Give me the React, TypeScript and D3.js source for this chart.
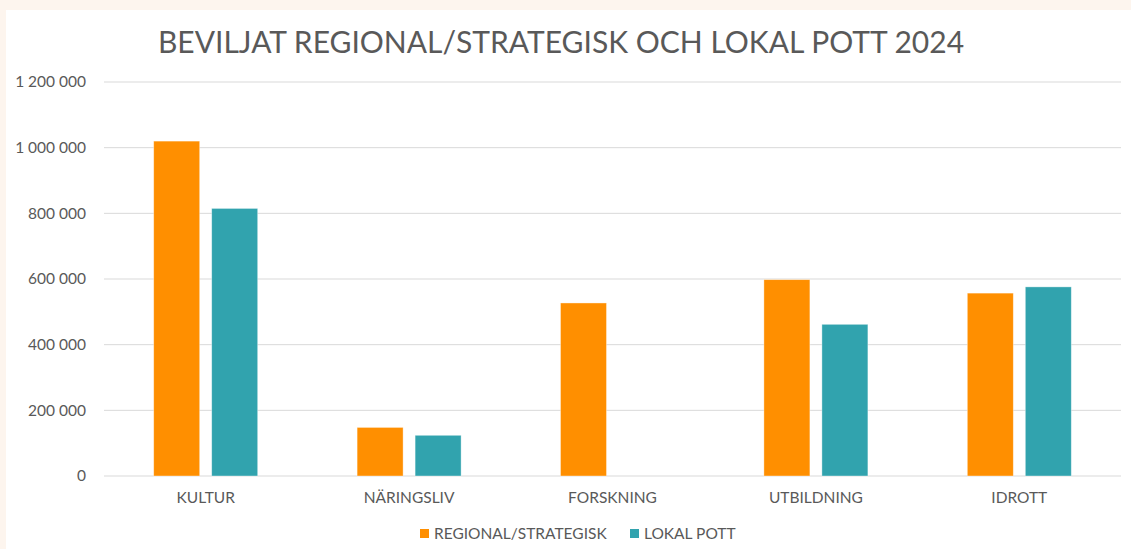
import React, { useEffect, useRef } from "react";
import * as d3 from "d3";

const categories = ["KULTUR", "NÄRINGSLIV", "FORSKNING", "UTBILDNING", "IDROTT"];
const seriesNames = ["REGIONAL/STRATEGISK", "LOKAL POTT"];
const regional = [1020000, 148000, 527000, 598000, 557000];
const lokal = [815000, 124000, 0, 462000, 576000];
const yTicks = [0, 200000, 400000, 600000, 800000, 1000000, 1200000];
const colors = ["#FF8F00", "#31A3AE"];
const title = "BEVILJAT REGIONAL/STRATEGISK OCH LOKAL POTT 2024";

const W = 1131;
const H = 549;

export default function App() {
  const ref = useRef<SVGSVGElement>(null);
  useEffect(() => {
    const svg = d3.select(ref.current);
    svg.selectAll("*").remove();
    const font = "Lato, 'Open Sans', sans-serif";
    const textColor = "#595959";
    const fs = 15.5;

    svg.append("rect").attr("width", W).attr("height", H).attr("fill", "#FDF5EE");
    svg.append("rect").attr("x", 6).attr("y", 10).attr("width", W - 6).attr("height", H - 10).attr("fill", "#ffffff");

    const left = 104, right = 1121, top = 82, bottom = 476;
    const y = d3.scaleLinear().domain([0, 1200000]).range([bottom, top]);
    const pad = 1 - 104 / ((right - left) / categories.length);
    const x0 = d3.scaleBand<string>().domain(categories).range([left, right]).paddingInner(pad).paddingOuter(pad / 2);
    const x1 = d3.scaleBand<string>().domain(seriesNames).range([0, x0.bandwidth()]).paddingInner(0.207).paddingOuter(0);

    const fmt = (v: number) => d3.format(",")(v).replace(/,/g, " ");

    // gridlines
    svg.append("g").selectAll("line").data(yTicks).join("line")
      .attr("x1", left).attr("x2", right)
      .attr("y1", d => y(d)).attr("y2", d => y(d))
      .attr("stroke", "#D9D9D9").attr("stroke-width", 1);

    // y labels
    svg.append("g").selectAll("text").data(yTicks).join("text")
      .attr("x", 86).attr("y", d => y(d)).attr("dy", "0.35em")
      .attr("text-anchor", "end").attr("font-family", font).attr("font-size", fs)
      .attr("fill", textColor).text(d => fmt(d));

    const seriesData = [regional, lokal];
    seriesNames.forEach((s, si) => {
      svg.append("g").selectAll("rect").data(categories).join("rect")
        .attr("x", c => (x0(c) as number) + (x1(s) as number))
        .attr("y", (c, i) => y(seriesData[si][i]))
        .attr("width", x1.bandwidth())
        .attr("height", (c, i) => bottom - y(seriesData[si][i]))
        .attr("fill", colors[si])
        .attr("stroke", "#ffffff").attr("stroke-opacity", 0.5).attr("stroke-width", 0.75)
        .style("display", (c, i) => seriesData[si][i] > 0 ? null : "none");
    });

    // category labels
    svg.append("g").selectAll("text").data(categories).join("text")
      .attr("x", c => (x0(c) as number) + x0.bandwidth() / 2).attr("y", 503)
      .attr("text-anchor", "middle").attr("font-family", font).attr("font-size", fs)
      .attr("fill", textColor).text(c => c);

    // title
    svg.append("text").attr("x", 561).attr("y", 53).attr("text-anchor", "middle")
      .attr("font-family", font).attr("font-size", 30).attr("fill", textColor).text(title);

    // legend
    const legendX = [420, 630];
    seriesNames.forEach((s, i) => {
      svg.append("rect").attr("x", legendX[i]).attr("y", 529).attr("width", 9).attr("height", 9).attr("fill", colors[i]);
      svg.append("text").attr("x", legendX[i] + 14).attr("y", 534).attr("dy", "0.35em")
        .attr("font-family", font).attr("font-size", fs).attr("fill", textColor).text(s);
    });
  }, []);
  return (
    <svg ref={ref} width={W} height={H} style={{ position: "absolute", left: 0, top: 0 }} />
  );
}
